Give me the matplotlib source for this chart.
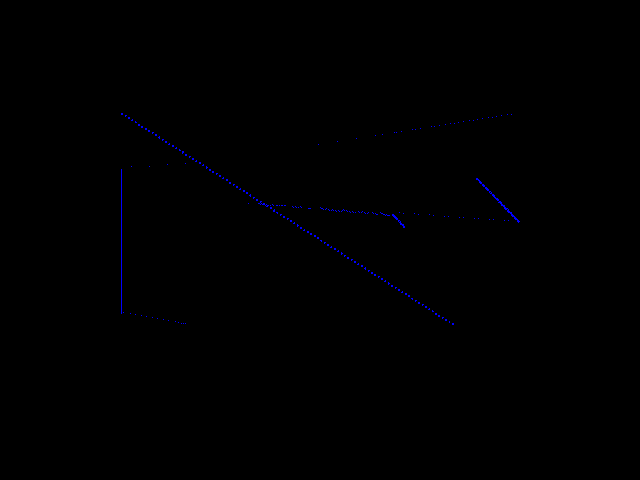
import matplotlib
matplotlib.use("Agg")
import matplotlib.pyplot as plt

# Readings (x to the right, y grows downward)
# Long falling trace
diag_x = [122, 454]
diag_y = [114, 325]

# Short falling trace on the right
right_x = [477, 519]
right_y = [179, 222]

# Tiny falling trace inside the band
small_x = [393, 405]
small_y = [215, 228]

# Vertical step on the left
step_x = [121.3, 121.3]
step_y = [169, 313]

# Sparse points after the step
tail_x = [123, 130, 135, 141, 146, 152, 157, 163, 168, 175, 178, 181, 183, 185]
tail_y = [313, 314, 315, 316, 317, 318, 319, 320, 321, 322, 323, 324, 324, 324]

# Rising curve across the top
curve_x = [131, 149, 167, 185, 318, 337, 356, 375, 382, 394, 396, 401, 412, 415,
           420, 431, 434, 439, 445, 450, 454, 458, 463, 469, 473, 477, 482, 488,
           492, 496, 501, 507, 511]
curve_y = [167, 167, 165, 164, 145, 142, 139, 136, 135, 133, 133, 132, 130, 130,
           129, 127, 127, 126, 125, 124, 124, 123, 122, 121, 121, 120, 119, 118,
           118, 117, 116, 115, 115]

# Flat noisy band in the middle (sparse right part)
band_x = [248, 399, 403, 414, 418, 429, 433, 444, 448, 459, 463, 474, 478, 489,
          493, 504, 508]
band_y = [204, 213, 214, 214, 215, 215, 216, 217, 217, 218, 218, 219, 219, 220,
          220, 221, 221]

# Dense clusters in the left part of the band
clus_x = [258, 259, 260, 261, 262, 263, 264, 265, 266, 268, 270, 272, 273,
          276, 277, 279, 281, 282, 284, 285,
          292, 293, 295, 296, 298, 300, 301,
          308, 309, 310,
          320, 321, 322, 323, 325, 326, 328, 329, 331, 332, 333,
          335, 336, 338, 339, 341, 342,
          343, 344, 346, 347, 349, 350, 352, 353, 355,
          358, 359, 361, 362, 364, 365, 367, 368,
          372, 373, 375, 376, 377,
          380, 381, 382, 383, 384, 385, 386, 387, 388, 389]
clus_y = [204, 204, 205, 204, 205, 205, 205, 206, 205, 206, 206, 205, 206,
          206, 206, 206, 206, 206, 206, 206,
          207, 208, 207, 208, 208, 207, 208,
          209, 209, 209,
          208, 209, 209, 210, 210, 209, 210, 211, 211, 210, 211,
          211, 212, 211, 212, 212, 211,
          210, 211, 211, 212, 212, 213, 212, 213, 213,
          212, 213, 213, 212, 213, 214, 214, 213,
          213, 214, 214, 215, 215,
          213, 214, 214, 215, 215, 216, 215, 216, 216, 216]

fig, ax = plt.subplots(figsize=(6.4, 4.8), dpi=100)
fig.patch.set_facecolor("black")
ax.set_facecolor("black")

px = 72 / 100  # one pixel in points

ax.plot(diag_x, diag_y, color="b", lw=px, linestyle=(0, (0.6, 3.4)), antialiased=False)
ax.plot(right_x, right_y, color="b", lw=px, linestyle=(0, (0.6, 1.4)), antialiased=False)
ax.plot(small_x, small_y, color="b", lw=px, linestyle=(0, (0.6, 2.0)), antialiased=False)
ax.plot(step_x, step_y, color="b", lw=px, antialiased=False)

for xs, ys in [(tail_x, tail_y), (curve_x, curve_y), (band_x, band_y), (clus_x, clus_y)]:
    ax.plot(xs, ys, "b,", linestyle="none")

ax.set_xlim(80, 576)
ax.set_ylim(427, 58)
ax.axis("off")

fig.savefig("out.png", dpi=100, facecolor="black")
